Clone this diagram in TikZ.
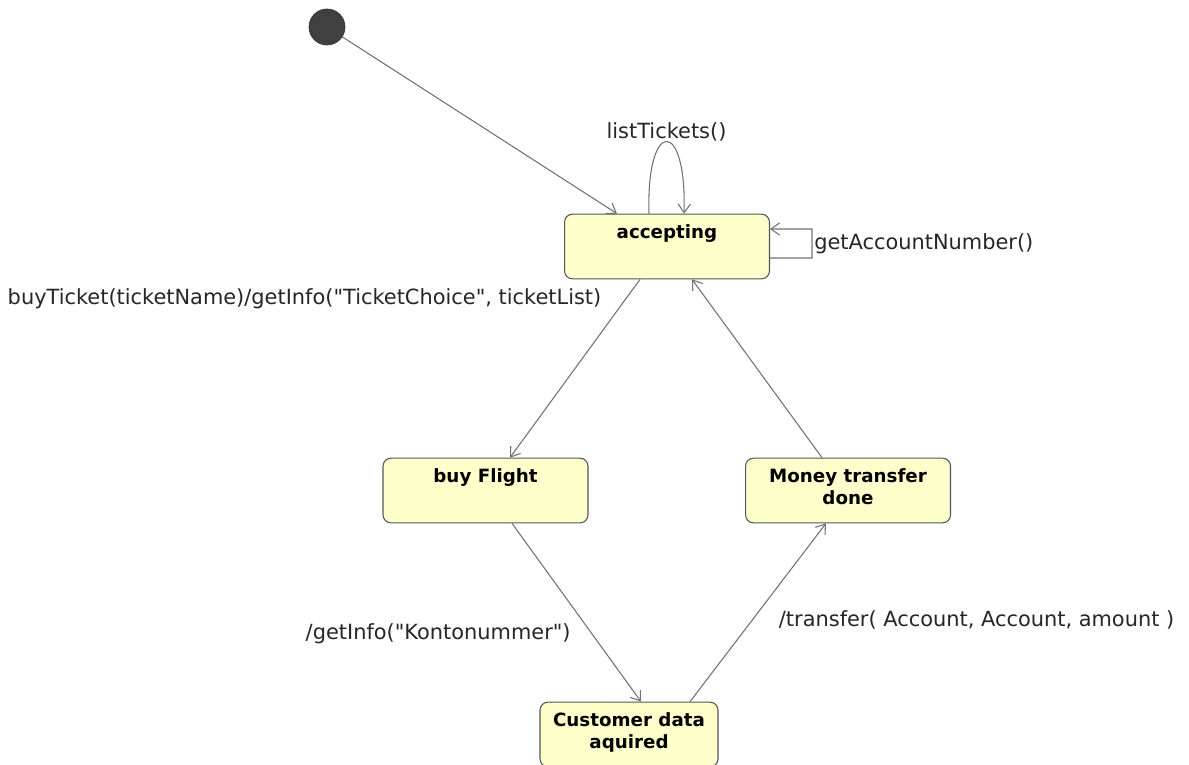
\documentclass[tikz,border=0pt]{standalone}
\usepackage{fontspec}
\setmainfont{DejaVu Sans}
\usetikzlibrary{arrows.meta,calc}
\definecolor{statefill}{HTML}{FFFFCC}
\definecolor{stateline}{HTML}{555555}
\definecolor{edgegray}{HTML}{707070}
\tikzstyle{state} = [rectangle, draw=stateline, fill=statefill, line width=0.6pt,
    rounded corners=4.5pt, align=center, font=\fontsize{10.4}{13}\selectfont\bfseries,
    minimum width=4.1cm, inner ysep=3.6pt, text height=10pt, text depth=19.6pt]
\tikzstyle{twoline} = [text height=23pt, text depth=6.6pt]
\tikzstyle{initial} = [circle, draw=black!80, fill=black!75, minimum size=0.72cm, inner sep=0pt]
\tikzstyle{line} = [draw=edgegray, line width=0.6pt, -{Straight Barb[length=5pt,width=7pt]}]
\tikzstyle{trig} = [font=\fontsize{11.9}{14}\selectfont, text=black!85]

\begin{document}
\begin{tikzpicture}[x=0.02cm, y=-0.02cm]
    \useasboundingbox (0,0) rectangle (1189,764);
    \clip (0,0) rectangle (1189,764);
    \node[initial] (init) at (327,27) {};
    \node[state] (accepting) at (667,246.5) {accepting};
    \node[state] (buyflight) at (485.5,490.5) {buy Flight};
    \node[state, twoline] (moneydone) at (848,490.5) {Money transfer\\done};
    \node[state, twoline, minimum width=3.56cm] (custdata) at (629,734.5) {Customer data\\aquired};

    \path[line] (init) -- ($(accepting.north)+(-50,0)$);
    \path[line] ($(accepting.north)+(-18,0)$) .. controls +(-3,-96) and +(3,-96) .. node[trig, above, inner ysep=0pt] {listTickets()} ($(accepting.north)+(17,0)$);
    \path[line] ($(accepting.east)+(0,11.5)$) -- ++(42,0) -- node[trig, right, inner xsep=1pt] {getAccountNumber()} ++(0,-29) -- ($(accepting.east)+(0,-17.5)$);
    \path[line] ($(accepting.south)+(-27,0)$) -- node[trig, pos=0.11, left=0.36cm] {buyTicket(ticketName)/getInfo(\textquotedbl TicketChoice\textquotedbl, ticketList)} ($(buyflight.north)+(24.5,0)$);
    \path[line] ($(buyflight.south)+(26.5,0)$) -- node[trig, pos=0.62, left=0.3cm] {/getInfo(\textquotedbl Kontonummer\textquotedbl)} ($(custdata.north)+(12,0)$);
    \path[line] ($(custdata.north)+(61,0)$) -- node[trig, pos=0.46, right=0.4cm] {/transfer( Account, Account, amount )} ($(moneydone.south)+(-22,0)$);
    \path[line] ($(moneydone.north)+(-26,0)$) -- ($(accepting.south)+(25,0)$);
\end{tikzpicture}
\end{document}
